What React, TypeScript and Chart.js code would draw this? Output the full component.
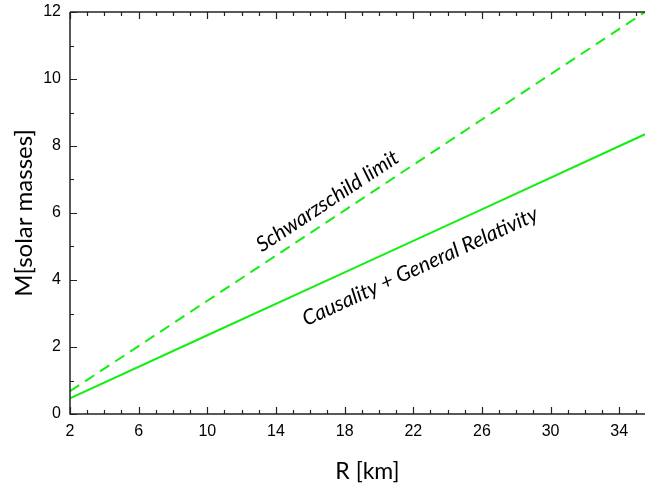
import React, { useEffect, useRef } from 'react';
import { Chart, registerables } from 'chart.js';

Chart.register(...registerables);

// Data
const radiusKm = [2, 10, 18, 26, 35.5];
const schwarzschildMass = [0.68, 3.38, 6.08, 8.79, 12.0];
const causalityMass = [0.47, 2.35, 4.23, 6.11, 8.35];

const xTickValues = [2, 6, 10, 14, 18, 22, 26, 30, 34];
const yTickValues = [0, 2, 4, 6, 8, 10, 12];

const seriesNames = ['Schwarzschild limit', 'Causality + General Relativity'];
const labelRadius = [17.0, 22.4];
const labelMass = [6.35, 4.4];

const xTitle = 'R [km]';
const yTitle = 'M[solar masses]';

const X_MIN = 2;
const X_MAX = 35.5;
const Y_MIN = 0;
const Y_MAX = 12;
const GREEN = '#14ee14';
const AXIS = '#222222';

const axesPlugin = {
  id: 'originAxes',
  afterDatasetsDraw(chart: any) {
    const { ctx, chartArea, scales } = chart;
    const xs = scales.x;
    const ys = scales.y;
    const { left, right, top, bottom } = chartArea;
    ctx.save();
    ctx.strokeStyle = AXIS;
    ctx.lineWidth = 1.5;
    ctx.beginPath();
    ctx.moveTo(left, top);
    ctx.lineTo(right + 2, top);
    ctx.moveTo(left, top);
    ctx.lineTo(left, bottom);
    ctx.lineTo(right + 2, bottom);
    ctx.stroke();
    ctx.lineWidth = 1.2;
    ctx.beginPath();
    for (let v = Math.ceil(X_MIN); v <= X_MAX; v++) {
      const major = (v - 2) % 4 === 0;
      const len = major ? 7 : 4;
      const px = Math.round(xs.getPixelForValue(v)) + 0.5;
      ctx.moveTo(px, bottom);
      ctx.lineTo(px, bottom - len);
      ctx.moveTo(px, top);
      ctx.lineTo(px, top + len);
    }
    for (let v = Y_MIN; v <= Y_MAX; v++) {
      const major = v % 2 === 0;
      const len = major ? 7 : 4;
      const py = Math.round(ys.getPixelForValue(v)) + 0.5;
      ctx.moveTo(left, py);
      ctx.lineTo(left + len, py);
    }
    ctx.stroke();

    // x-axis title (slightly right of centre, as in the reference)
    ctx.fillStyle = '#000';
    ctx.font = '23px Lato, "Open Sans", sans-serif';
    ctx.textAlign = 'center';
    ctx.textBaseline = 'middle';
    ctx.fillText(xTitle, (left + right) / 2 + 10, bottom + 58);
    ctx.restore();
  },
};

const labelPlugin = {
  id: 'lineLabels',
  afterDatasetsDraw(chart: any) {
    const { ctx, scales } = chart;
    const xs = scales.x;
    const ys = scales.y;
    const series = [schwarzschildMass, causalityMass];
    ctx.save();
    ctx.fillStyle = '#000';
    ctx.font = 'italic 21px Lato, "Open Sans", sans-serif';
    ctx.textAlign = 'center';
    ctx.textBaseline = 'middle';
    seriesNames.forEach((name, i) => {
      const vals = series[i];
      const n = radiusKm.length - 1;
      const dx = xs.getPixelForValue(radiusKm[n]) - xs.getPixelForValue(radiusKm[0]);
      const dy = ys.getPixelForValue(vals[n]) - ys.getPixelForValue(vals[0]);
      const angle = Math.atan2(dy, dx);
      const px = xs.getPixelForValue(labelRadius[i]);
      const py = ys.getPixelForValue(labelMass[i]);
      ctx.save();
      ctx.translate(px, py);
      ctx.rotate(angle);
      ctx.fillText(name, 0, 0);
      ctx.restore();
    });
    ctx.restore();
  },
};

export default function App() {
  const canvasRef = useRef<HTMLCanvasElement | null>(null);

  useEffect(() => {
    document.body.style.margin = '0';
    const canvas = canvasRef.current;
    if (!canvas) return;
    const chart = new Chart(canvas, {
      type: 'line',
      data: {
        datasets: [
          {
            label: seriesNames[0],
            data: radiusKm.map((r, i) => ({ x: r, y: schwarzschildMass[i] })),
            borderColor: GREEN,
            borderWidth: 2,
            borderDash: [11, 7],
            pointRadius: 0,
            fill: false,
            tension: 0,
          },
          {
            label: seriesNames[1],
            data: radiusKm.map((r, i) => ({ x: r, y: causalityMass[i] })),
            borderColor: GREEN,
            borderWidth: 2,
            pointRadius: 0,
            fill: false,
            tension: 0,
          },
        ],
      },
      options: {
        animation: false,
        responsive: false,
        maintainAspectRatio: false,
        layout: { padding: { top: 12, right: 0, left: 0, bottom: 0 } },
        plugins: {
          legend: { display: false },
          tooltip: { enabled: false },
        },
        scales: {
          x: {
            type: 'linear',
            min: X_MIN,
            max: X_MAX,
            grid: { display: false, drawTicks: false },
            border: { display: false },
            afterBuildTicks: (scale: any) => {
              scale.ticks = xTickValues.map((v) => ({ value: v }));
            },
            afterFit: (scale: any) => {
              scale.height = 72;
              scale.paddingLeft = 0;
              scale.paddingRight = 0;
            },
            ticks: {
              color: '#000',
              padding: 8,
              maxRotation: 0,
              autoSkip: false,
              font: { family: '"Liberation Sans", Arial, sans-serif', size: 16 },
            },
            title: { display: false, text: xTitle },
          },
          y: {
            type: 'linear',
            min: Y_MIN,
            max: Y_MAX,
            grid: { display: false, drawTicks: false },
            border: { display: false },
            afterBuildTicks: (scale: any) => {
              scale.ticks = yTickValues.map((v) => ({ value: v }));
            },
            afterFit: (scale: any) => {
              scale.width = 70;
              scale.paddingTop = 0;
              scale.paddingBottom = 0;
            },
            ticks: {
              color: '#000',
              padding: 9,
              autoSkip: false,
              font: { family: '"Liberation Sans", Arial, sans-serif', size: 16 },
            },
            title: {
              display: true,
              text: yTitle,
              color: '#000',
              font: { family: 'Lato, "Open Sans", sans-serif', size: 24 },
              padding: { top: 10, bottom: 0 },
            },
          },
        },
      },
      plugins: [axesPlugin, labelPlugin],
    });
    return () => chart.destroy();
  }, []);

  return (
    <div style={{ width: 645, height: 486 }}>
      <canvas ref={canvasRef} width={645} height={486} style={{ display: 'block' }} />
    </div>
  );
}
